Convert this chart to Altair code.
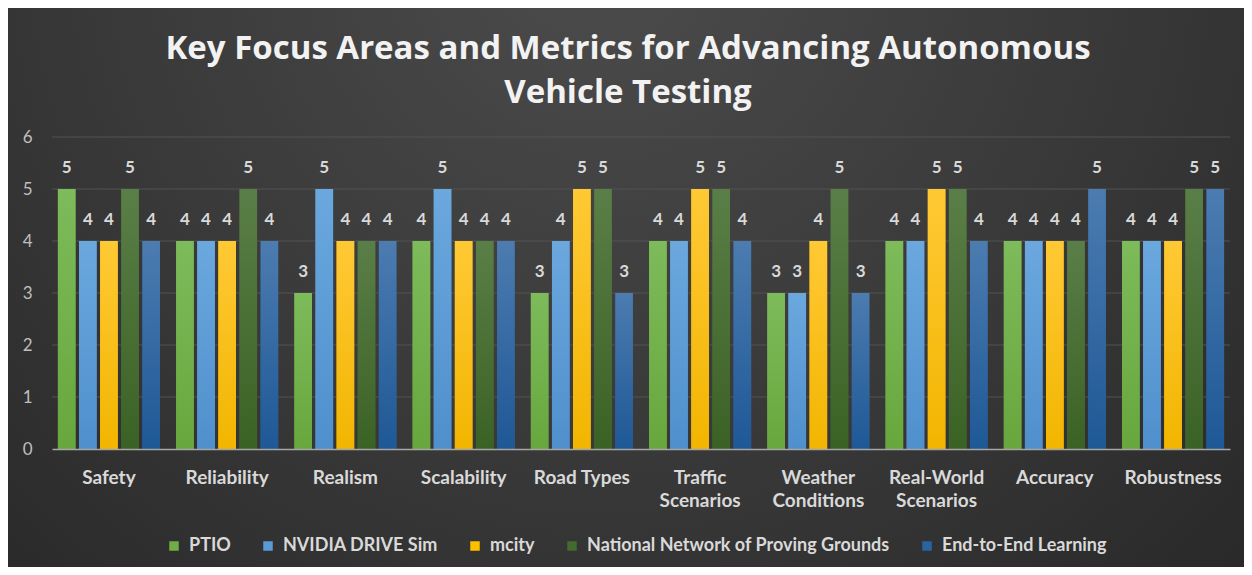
import altair as alt
import pandas as pd

categories = ["Safety", "Reliability", "Realism", "Scalability", "Road Types",
              "Traffic Scenarios", "Weather Conditions", "Real-World Scenarios",
              "Accuracy", "Robustness"]
series = ["PTIO", "NVIDIA DRIVE Sim", "mcity", "National Network of Proving Grounds",
          "End-to-End Learning"]
ptio = [5, 4, 3, 4, 3, 4, 3, 4, 4, 4]
nvidia = [4, 4, 5, 5, 4, 4, 3, 4, 4, 4]
mcity = [4, 4, 4, 4, 5, 5, 4, 5, 4, 4]
nnpg = [5, 5, 4, 4, 5, 5, 5, 5, 4, 5]
e2e = [4, 4, 4, 4, 3, 4, 3, 4, 5, 5]
y_ticks = [1, 2, 3, 4, 5, 6]
colors = ["#70ad47", "#5b9bd5", "#ffc000", "#446b2d", "#2a64a0"]
top_colors = ["#7dbb5b", "#6aa8de", "#ffc935", "#5a7e47", "#4c7cb0"]
bottom_colors = ["#68a73d", "#4f8fcc", "#f2b500", "#3b6225", "#1e5896"]

title_lines = ["Key Focus Areas and Metrics for Advancing Autonomous", "Vehicle Testing"]

rows = []
for s, vals in zip(series, [ptio, nvidia, mcity, nnpg, e2e]):
    for c, v in zip(categories, vals):
        rows.append({"category": c, "series": s, "value": v})
df = pd.DataFrame(rows)

W, H = 1178, 312
PAD = {"left": 44, "top": 129, "right": 14, "bottom": 118}

bg = alt.Chart(pd.DataFrame({"k": [0]})).mark_rect(
    color={
        "gradient": "radial",
        "x1": 0.48, "y1": 0.22, "r1": 0.0,
        "x2": 0.48, "y2": 0.22, "r2": 0.85,
        "stops": [
            {"offset": 0.0, "color": "#4c4c4c"},
            {"offset": 0.55, "color": "#363636"},
            {"offset": 1.0, "color": "#232323"},
        ],
    }
).encode(
    x=alt.value(-PAD["left"]), x2=alt.value(W + PAD["right"]),
    y=alt.value(-PAD["top"]), y2=alt.value(H + PAD["bottom"]),
)

grid = alt.Chart(pd.DataFrame({"t": y_ticks})).mark_rule(
    color="#535353", strokeWidth=1
).encode(y=alt.Y("t:Q", scale=alt.Scale(domain=[0, 6]), title=None))

x_enc = alt.X(
    "category:N", sort=categories,
    scale=alt.Scale(paddingInner=0.137, paddingOuter=0.05),
    axis=alt.Axis(
        title=None, labelAngle=0, ticks=False, grid=False, zindex=1,
        domainColor="#a6a6a6", domainWidth=1.5,
        labelColor="#d9d9d9", labelFont="Lato", labelFontWeight="bold",
        labelFontSize=19, labelPadding=19, labelLineHeight=23,
        labelExpr="length(datum.label) > 12 ? split(datum.label, ' ') : datum.label",
    ),
)
xo_enc = alt.XOffset("series:N", sort=series,
                     scale=alt.Scale(domain=series, paddingInner=0.167, paddingOuter=0))
y_enc = alt.Y(
    "value:Q", scale=alt.Scale(domain=[0, 6]),
    axis=alt.Axis(
        title=None, values=[0, 1, 2, 3, 4, 5, 6], ticks=False, domain=False,
        grid=False, zindex=1, labelColor="#bfbfbf", labelFont="Lato",
        labelFontSize=17, labelPadding=20,
    ),
)

base = alt.Chart(df).encode(x=x_enc, xOffset=xo_enc, y=y_enc)

bars = base.mark_bar().encode(
    color=alt.Color(
        "series:N", sort=series,
        scale=alt.Scale(domain=series, range=colors),
        legend=alt.Legend(
            title=None, orient="none", direction="horizontal",
            legendX=113, legendY=400, symbolType="square", symbolSize=90,
            symbolStrokeWidth=0, labelColor="#d9d9d9", labelFont="Lato",
            labelFontWeight="bold", labelFontSize=18, labelOffset=6,
            columnPadding=28, labelLimit=500,
        ),
    )
)

shade_layers = []
for s, tc, bc in zip(series, top_colors, bottom_colors):
    shade_layers.append(
        base.transform_filter(alt.datum.series == s).mark_bar(
            color={
                "gradient": "linear", "x1": 0, "y1": 0, "x2": 0, "y2": 1,
                "stops": [{"offset": 0, "color": tc}, {"offset": 1, "color": bc}],
            }
        )
    )

labels = base.mark_text(
    dy=-21, font="Lato", fontWeight="bold", fontSize=17, color="#d9d9d9"
).encode(text="value:Q")

chart = alt.layer(bg, grid, bars, *shade_layers, labels).properties(
    width=W, height=H,
    autosize=alt.AutoSizeParams(type="none"),
    padding=PAD,
    background="#2b2b2b",
    title=alt.TitleParams(
        text=title_lines, font="Open Sans", fontSize=33, fontWeight="bold",
        color="#f2f2f2", anchor="middle", dx=-13, offset=-102, lineHeight=44,
    ),
).configure_view(stroke=None)

chart.save("out.html", embed_options={"renderer": "svg", "actions": False})
